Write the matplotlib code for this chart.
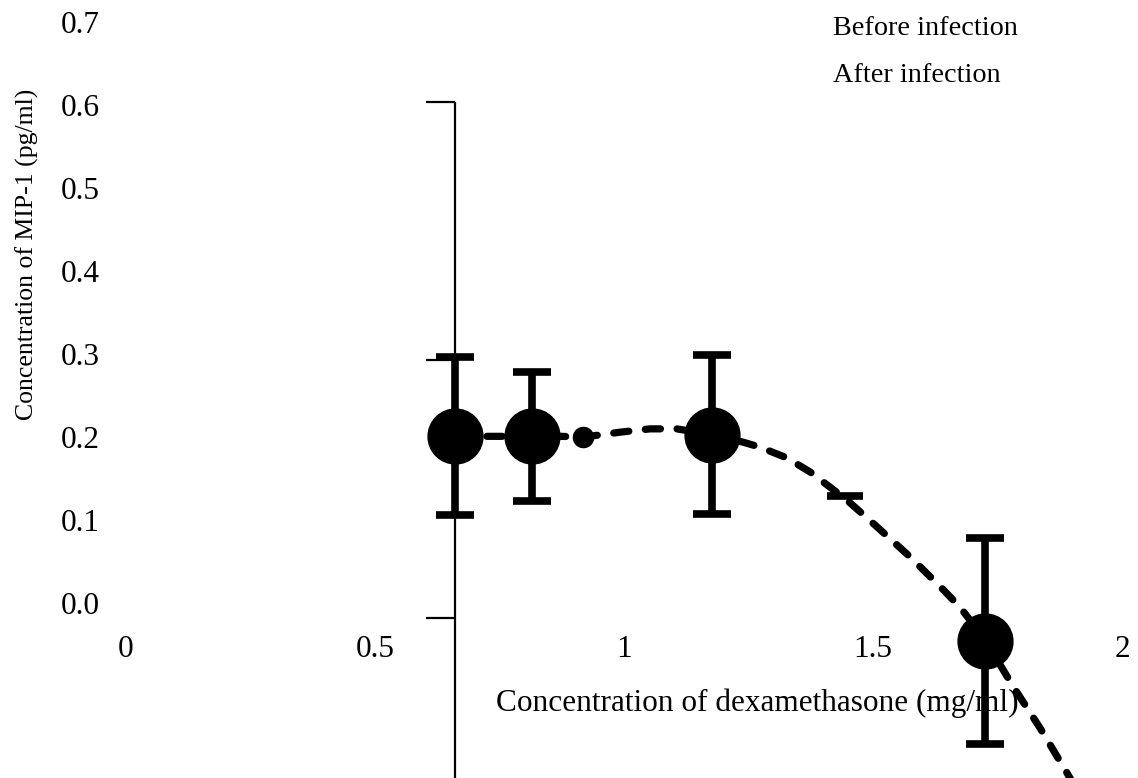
import matplotlib
matplotlib.use("Agg")
import matplotlib.pyplot as plt

# ---- data ----
dose = [0.66, 0.815, 1.177, 1.725]
mip1 = [0.202, 0.202, 0.204, -0.045]
mip1_err = [0.095, 0.078, 0.096, 0.124]

small_dose = [0.918]
small_mip1 = [0.201]

cap_dose = [1.444]
cap_mip1 = [0.130]

# dashed trend curve
trend_dose = [0.661, 0.755, 0.831, 0.918, 0.992, 1.052, 1.106, 1.177, 1.239,
              1.273, 1.327, 1.374, 1.448, 1.508, 1.574, 1.635, 1.675, 1.725,
              1.781, 1.835, 1.890, 1.936]
trend_mip1 = [0.202, 0.202, 0.203, 0.201, 0.207, 0.211, 0.211, 0.204, 0.195,
              0.189, 0.176, 0.159, 0.125, 0.093, 0.057, 0.021, -0.004, -0.043,
              -0.099, -0.149, -0.204, -0.251]

ytick_labels = ["0.0", "0.1", "0.2", "0.3", "0.4", "0.5", "0.6", "0.7"]
ytick_values = [0.0, 0.1, 0.2, 0.3, 0.4, 0.5, 0.6, 0.7]
xtick_labels = ["0", "0.5", "1", "1.5", "2"]
xtick_values = [0.0, 0.5, 1.0, 1.5, 2.0]

axis_x = 0.66
axis_top = 0.605
axis_ticks = [0.605, 0.294, -0.017]

legend_labels = ["Before infection", "After infection"]
xlabel = "Concentration of dexamethasone (mg/ml)"
ylabel = "Concentration of MIP-1 (pg/ml)"

# ---- figure ----
plt.rcParams['font.family'] = ['Liberation Serif', 'DejaVu Serif']
W, H = 1138, 778
fig = plt.figure(figsize=(W / 100, H / 100), dpi=100)
ax = fig.add_axes([0, 0, 1, 1])
ax.set_xlim(-126 / 498, (W - 126) / 498)
ax.set_ylim((604 - H) / 830, 604 / 830)
ax.axis('off')

# odd vertical axis with ticks
ax.plot([axis_x, axis_x], [axis_top, -0.5], color='black', lw=1.6,
        solid_capstyle='butt', zorder=1)
for t in axis_ticks:
    ax.plot([axis_x - 0.058, axis_x], [t, t], color='black', lw=1.6,
            solid_capstyle='butt', zorder=1)

# dashed trend line
ax.plot(trend_dose, trend_mip1, color='black', lw=5.2, dashes=(2.1, 2.3),
        dash_capstyle='round', zorder=2)

# error bars + markers
ax.errorbar(dose, mip1, yerr=mip1_err, fmt='none', ecolor='black',
            elinewidth=5.5, capsize=13.5, capthick=5.5, zorder=3)
ax.plot(dose, mip1, 'o', color='black', ms=39.5, zorder=4)
ax.plot(small_dose, small_mip1, 'o', color='black', ms=14.5, zorder=4)
ax.plot(cap_dose, cap_mip1, '_', color='black', ms=26, mew=5.5, zorder=4)

# tick labels
for v, s in zip(ytick_values, ytick_labels):
    ax.text(-0.0914, v - 0.012, s, ha='center', va='baseline', fontsize=22.5)
for v, s in zip(xtick_values, xtick_labels):
    ax.text(v, -0.0639, s, ha='center', va='baseline', fontsize=22.5)

ax.text(1.268, -0.129, xlabel, ha='center', va='baseline', fontsize=22.5)
ax.text(-0.1988, 0.421, ylabel, ha='center', va='center', rotation=90,
        fontsize=18.5)

ax.text(1.4197, 0.6855, legend_labels[0], ha='left', va='baseline', fontsize=20.3)
ax.text(1.4197, 0.6289, legend_labels[1], ha='left', va='baseline', fontsize=20.3)

fig.savefig("out.png", dpi=100)
